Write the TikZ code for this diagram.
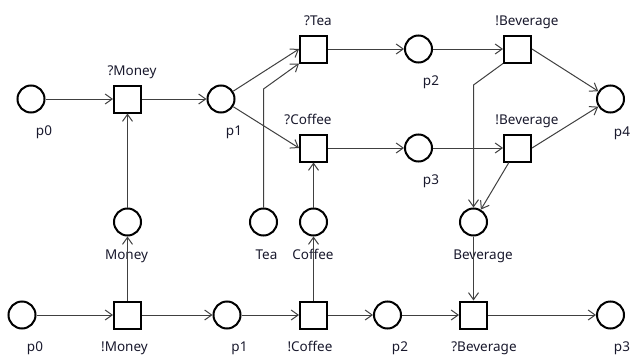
\documentclass[tikz,border=0pt]{standalone}
\usepackage{fontspec}
\setmainfont{Noto Sans}
\usetikzlibrary{arrows.meta}
\definecolor{labelc}{RGB}{25,25,45}
\definecolor{edgec}{RGB}{64,64,64}
\begin{document}
\begin{tikzpicture}[x=1pt,y=-1pt,
  place/.style={circle,draw=black,line width=2pt,minimum size=27pt,inner sep=0pt},
  trans/.style={rectangle,draw=black,line width=2pt,minimum size=27pt,inner sep=0pt},
  lbl/.style={anchor=base,font=\fontsize{13.5}{16}\selectfont,text=labelc,inner sep=0pt},
  arc/.style={draw=edgec,line width=1pt,-{Straight Barb[length=7pt,width=10pt]}},
]
\fill[white] (0,0) rectangle (630,359);
\useasboundingbox (0,0) rectangle (630,359);
% top net
\node[place] (tp0) at (31,99) {};
\node[trans] (qmoney) at (127.5,99) {};
\node[place] (tp1) at (221,99) {};
\node[trans] (qtea) at (313.5,49) {};
\node[trans] (qcoffee) at (313.5,148) {};
\node[place] (tp2) at (418.5,49) {};
\node[place] (tp3) at (418.5,148) {};
\node[trans] (bev1) at (517.5,49) {};
\node[trans] (bev2) at (517.5,148) {};
\node[place] (tp4) at (610.5,99) {};
% interface places
\node[place] (money) at (127.5,222) {};
\node[place] (tea) at (263.5,222) {};
\node[place] (coffee) at (313.5,222) {};
\node[place] (bevc) at (473.5,222) {};
% bottom net
\node[place] (bp0) at (22,315) {};
\node[trans] (emoney) at (127.5,315) {};
\node[place] (bp1) at (227,315) {};
\node[trans] (ecoffee) at (313.5,315) {};
\node[place] (bp2) at (387.5,315) {};
\node[trans] (qbev) at (473.5,315) {};
\node[place] (bp3) at (610.5,315) {};
% labels
\node[lbl] (ltp0) at (44,135) {p0};
\node[lbl] (lqmoney) at (132,75) {?Money};
\node[lbl] (ltp1) at (234,135) {p1};
\node[lbl] (lqtea) at (318,25) {?Tea};
\node[lbl] (lqcoffee) at (308,124) {?Coffee};
\node[lbl] (ltp2) at (431,85) {p2};
\node[lbl] (ltp3) at (431,184) {p3};
\node[lbl] (lbev1) at (527,25) {!Beverage};
\node[lbl] (lbev2) at (527,124) {!Beverage};
\node[lbl] (ltp4) at (622,136) {p4};
\node[lbl] (lmoney) at (126.5,259) {Money};
\node[lbl] (ltea) at (266.5,259) {Tea};
\node[lbl] (lcoffee) at (313,259) {Coffee};
\node[lbl] (lbevc) at (483,259) {Beverage};
\node[lbl] (lbp0) at (35,351) {p0};
\node[lbl] (lemoney) at (124.5,351) {!Money};
\node[lbl] (lbp1) at (239.5,351) {p1};
\node[lbl] (lecoffee) at (310,351) {!Coffee};
\node[lbl] (lbp2) at (400,351) {p2};
\node[lbl] (lqbev) at (484,351) {?Beverage};
\node[lbl] (lbp3) at (622,351) {p3};
% bend points
\coordinate (teabend) at (263.5,89);
\coordinate (bevbend) at (473.5,85);
% top edges
\draw[arc] (tp0) -- (qmoney);
\draw[arc] (money) -- (qmoney);
\draw[arc] (qmoney) -- (tp1);
\draw[arc] (tp1) -- (qtea.west);
\draw[arc] (tp1) -- (qcoffee.west);
\draw[arc] (tea.north) -- (teabend) -- (qtea.south west);
\draw[arc] (qtea) -- (tp2);
\draw[arc] (tp2) -- (bev1);
\draw[arc] (bev1.east) -- (tp4);
\draw[arc] (bev1.south west) -- (bevbend) -- (bevc.north);
\draw[arc] (qcoffee) -- (tp3);
\draw[arc] (coffee) -- (qcoffee);
\draw[arc] (tp3) -- (bev2);
\draw[arc] (bev2.east) -- (tp4);
\draw[arc] (bev2) -- (bevc);
% bottom edges
\draw[arc] (bp0) -- (emoney);
\draw[arc] (emoney) -- (money);
\draw[arc] (emoney) -- (bp1);
\draw[arc] (bp1) -- (ecoffee);
\draw[arc] (ecoffee) -- (coffee);
\draw[arc] (ecoffee) -- (bp2);
\draw[arc] (bp2) -- (qbev);
\draw[arc] (bevc) -- (qbev);
\draw[arc] (qbev) -- (bp3);
\end{tikzpicture}
\end{document}
